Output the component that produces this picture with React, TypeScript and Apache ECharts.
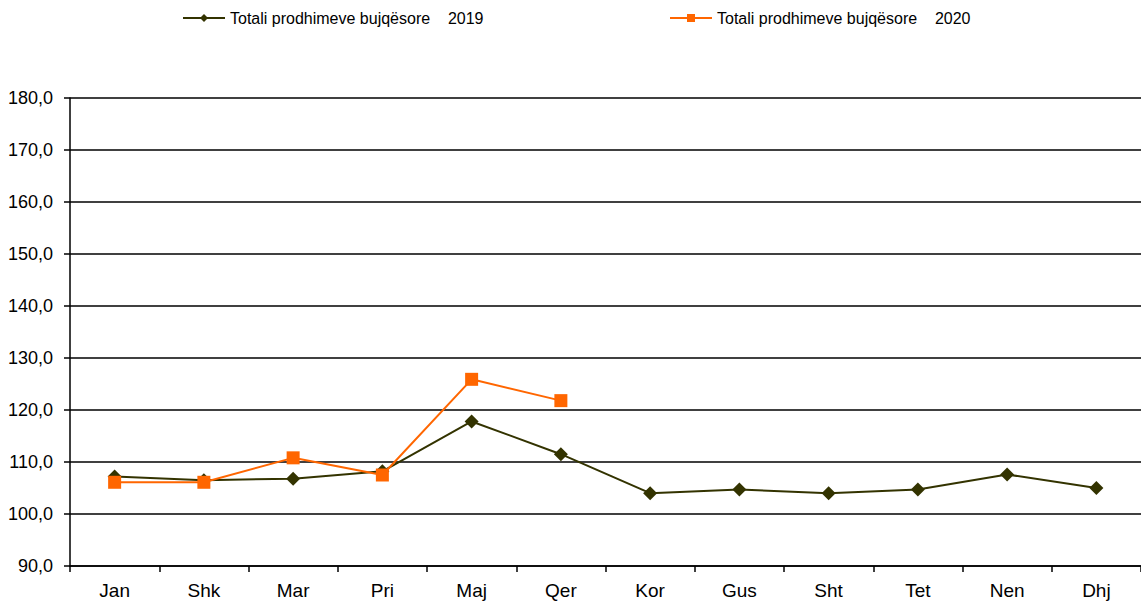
import React, { useEffect, useRef } from "react";
import * as echarts from "echarts";

const months = ["Jan", "Shk", "Mar", "Pri", "Maj", "Qer", "Kor", "Gus", "Sht", "Tet", "Nen", "Dhj"];
const values2019 = [107.2, 106.5, 106.8, 108.2, 117.8, 111.5, 104.0, 104.7, 104.0, 104.7, 107.6, 105.0];
const values2020 = [106.1, 106.1, 110.8, 107.5, 125.9, 121.8];
const name2019 = "Totali prodhimeve bujqësore\u00a0\u00a0\u00a0\u00a02019";
const name2020 = "Totali prodhimeve bujqësore\u00a0\u00a0\u00a0\u00a02020";

const FONT = "'Liberation Sans', Arial, sans-serif";

export default function App() {
  const ref = useRef<HTMLDivElement>(null);
  useEffect(() => {
    document.body.style.margin = "0";
    const chart = echarts.init(ref.current!, null, { renderer: "svg" });
    chart.setOption({
      animation: false,
      backgroundColor: "#ffffff",
      textStyle: { fontFamily: FONT },
      legend: [
        {
          data: [name2019],
          left: 182,
          top: 10,
          padding: 0,
          itemWidth: 42,
          itemHeight: 10,
          itemGap: 5,
          textStyle: { fontFamily: FONT, fontSize: 16, color: "#000" },
        },
        {
          data: [name2020],
          left: 669,
          top: 10,
          padding: 0,
          itemWidth: 42,
          itemHeight: 10,
          itemGap: 5,
          textStyle: { fontFamily: FONT, fontSize: 16, color: "#000" },
        },
      ],
      grid: { left: 70, right: 0, top: 98, bottom: 39, containLabel: false },
      xAxis: {
        type: "category",
        data: months,
        boundaryGap: true,
        axisLine: { lineStyle: { color: "#000", width: 1.5 } },
        axisTick: { show: true, length: 6, inside: false, lineStyle: { color: "#000", width: 1.5 } },
        axisLabel: { color: "#000", fontSize: 19, fontFamily: FONT, margin: 15 },
      },
      yAxis: {
        type: "value",
        min: 90,
        max: 180,
        interval: 10,
        axisLine: { show: true, lineStyle: { color: "#000", width: 1.5 } },
        axisTick: { show: true, length: 6, lineStyle: { color: "#000", width: 1.5 } },
        splitLine: { show: true, lineStyle: { color: "#000", width: 1.5 } },
        axisLabel: {
          color: "#000",
          fontSize: 18,
          fontFamily: FONT,
          margin: 17,
          formatter: (v: number) => v.toFixed(1).replace(".", ","),
        },
      },
      series: [
        {
          name: name2019,
          type: "line",
          data: values2019,
          symbol: "diamond",
          symbolSize: 14,
          color: "#333300",
          lineStyle: { color: "#333300", width: 2 },
          itemStyle: { color: "#333300" },
          z: 2,
        },
        {
          name: name2020,
          type: "line",
          data: values2020,
          symbol: "rect",
          symbolSize: 13,
          color: "#FF6600",
          lineStyle: { color: "#FF6600", width: 2 },
          itemStyle: { color: "#FF6600" },
          z: 3,
        },
      ],
    });
    return () => chart.dispose();
  }, []);
  return <div ref={ref} style={{ width: 1141, height: 605 }} />;
}
